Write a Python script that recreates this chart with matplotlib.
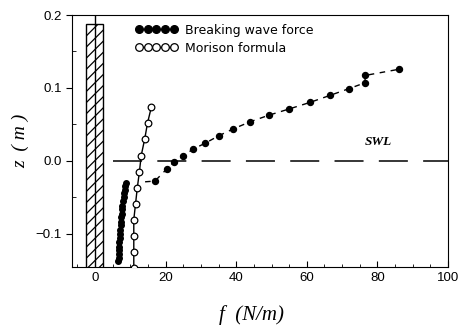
import matplotlib
matplotlib.use("Agg")
import matplotlib.pyplot as plt
from matplotlib.patches import Rectangle
from matplotlib.ticker import MultipleLocator

# breaking wave force, lower (dense) cluster
brk_low_f = [6.6, 6.7, 6.7, 6.8, 6.9, 6.9, 7.0, 7.1, 7.2, 7.3, 7.4,
             7.5, 7.6, 7.7, 7.8, 7.9, 8.1, 8.2, 8.4, 8.6, 8.8]
brk_low_z = [-0.138, -0.133, -0.128, -0.123, -0.118, -0.112, -0.106, -0.100,
             -0.095, -0.089, -0.084, -0.078, -0.073, -0.067, -0.062, -0.056,
             -0.050, -0.045, -0.040, -0.035, -0.030]

# breaking wave force, upper branch
brk_up_f = [17.0, 20.3, 22.5, 25.0, 27.9, 31.2, 35.2, 39.2, 44.0, 49.3,
            55.0, 60.9, 66.6, 72.0, 76.5, 76.5, 86.1]
brk_up_z = [-0.028, -0.0115, -0.002, 0.007, 0.016, 0.024, 0.0345, 0.0437,
            0.0535, 0.0625, 0.071, 0.080, 0.0897, 0.099, 0.107, 0.117, 0.1255]

# dashed guide line through the upper branch
guide_f = [14.2] + brk_up_f
guide_z = [-0.029] + brk_up_z

# Morison formula
mor_f = [11.0, 11.0, 11.0, 11.0, 11.5, 12.0, 12.6, 13.1, 14.1, 14.9, 16.0]
mor_z = [-0.147, -0.125, -0.103, -0.081, -0.059, -0.037, -0.015, 0.007,
         0.030, 0.052, 0.074]

# pile (hatched) and still water level
wall_left, wall_right, wall_top = -2.5, 2.3, 0.187
swl_f = [5, 100]
swl_z = [0, 0]

plt.rcParams["hatch.linewidth"] = 0.9

fig = plt.figure(figsize=(4.66, 3.29), dpi=100)
ax = fig.add_axes([0.1545, 0.1884, 0.807, 0.766])

ax.add_patch(Rectangle((wall_left, -0.2), wall_right - wall_left, wall_top + 0.2,
                       facecolor="white", edgecolor="black", hatch="///",
                       linewidth=1.0, zorder=2))
ax.axvline(0, color="black", linewidth=1.0, zorder=3)

ax.plot(swl_f, swl_z, color="black", linewidth=1.1, dashes=(19, 10), zorder=3)

ax.plot(guide_f, guide_z, color="black", linewidth=1.0, dashes=(4, 4), zorder=3)
ax.plot(brk_low_f, brk_low_z, "o", color="black", markersize=4, zorder=4)
ax.plot(brk_up_f, brk_up_z, "o", color="black", markersize=4.3, zorder=4)

ax.plot(mor_f, mor_z, "-o", color="black", markerfacecolor="white",
        markersize=4.8, markeredgewidth=0.9, linewidth=1.0, zorder=4)

# legend handles
h1, = ax.plot([], [], "o", color="black", markersize=5.5,
              label="Breaking wave force")
h2, = ax.plot([], [], "-o", color="black", markerfacecolor="white",
              markersize=5.5, markeredgewidth=0.9, linewidth=1.0,
              label="Morison formula")
leg = ax.legend(handles=[h1, h2], loc="upper left",
                bbox_to_anchor=(0.168, 0.965), borderaxespad=0, borderpad=0,
                numpoints=5, handlelength=3.4, handletextpad=0.6,
                labelspacing=0.4, frameon=False,
                prop={"family": "DejaVu Sans", "size": 9})

ax.text(80.4, 0.025, "SWL", fontsize=9.5, fontstyle="italic", fontweight="bold",
        family="Liberation Serif", ha="center", va="center")

ax.set_xlim(-6.5, 100)
ax.set_ylim(-0.146, 0.2)
ax.xaxis.set_major_locator(MultipleLocator(20))
ax.xaxis.set_minor_locator(MultipleLocator(5))
ax.yaxis.set_minor_locator(MultipleLocator(0.05))
ax.set_yticks([-0.1, 0.0, 0.1, 0.2])
ax.set_yticklabels(["\u22120.1", "0.0", "0.1", "0.2"])

ax.tick_params(axis="x", which="major", direction="in", length=4, labelsize=9.5)
ax.tick_params(axis="x", which="minor", direction="in", length=2.5)
ax.tick_params(axis="y", which="major", direction="out", length=4, labelsize=9.5)
ax.tick_params(axis="y", which="minor", direction="in", length=3)
for lab in ax.get_xticklabels() + ax.get_yticklabels():
    lab.set_family("Liberation Sans")

ax.set_xlabel("f  (N/m)", fontsize=15, fontstyle="italic",
              family="Liberation Serif")
ax.set_ylabel("z  ( m )", fontsize=14, fontstyle="italic",
              family="Liberation Serif")
ax.xaxis.set_label_coords(0.476, -0.19)
ax.yaxis.set_label_coords(-0.138, 0.5)
ax.xaxis.label.set_va("center")
ax.yaxis.label.set_va("center")

fig.savefig("out.png", dpi=100)
